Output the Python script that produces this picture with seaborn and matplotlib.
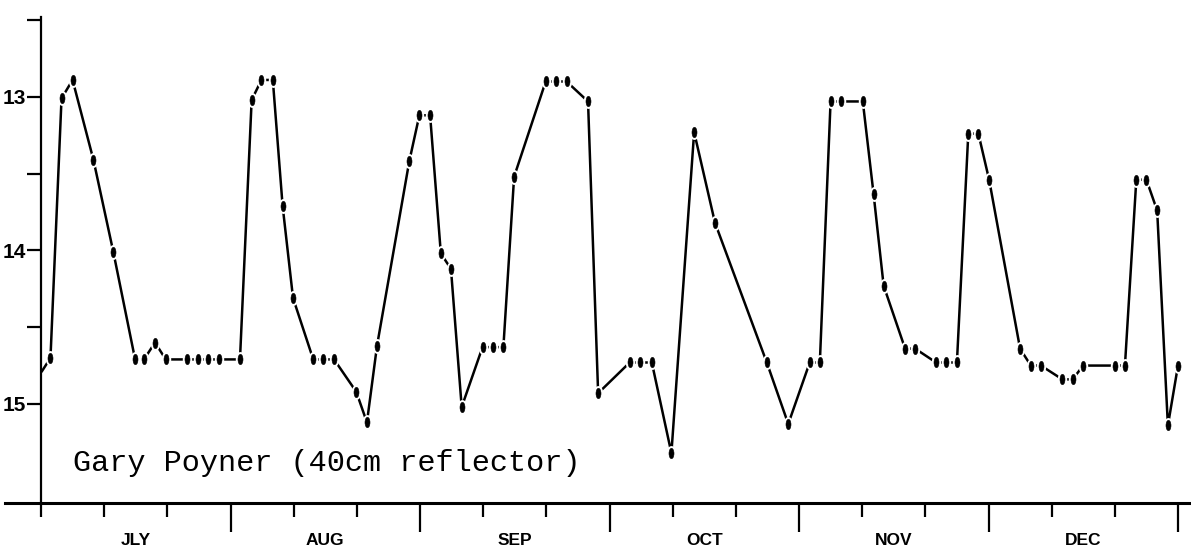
import numpy as np
import pandas as pd
import matplotlib
matplotlib.use("Agg")
import matplotlib.pyplot as plt
from matplotlib.path import Path
from matplotlib.transforms import Affine2D
import seaborn as sns

# ---- data (x in "chart days": each month spans 30 units) ----
days = [0.1, 1.5, 3.25, 5.0, 8.3, 11.45,
        14.9, 16.3, 18.05, 19.75, 23.15, 24.8, 26.5, 28.2, 31.5,
        33.35, 34.9, 36.7, 38.25, 39.9,
        43.1, 44.7, 46.4, 49.9, 51.6, 53.2,
        58.3, 59.9, 61.6, 63.3, 64.9,
        66.6, 69.9, 71.5, 73.2, 74.9,
        79.9, 81.5, 83.2, 86.6, 88.2,
        93.2, 94.9, 96.7, 99.8,
        103.4, 106.7, 114.9, 118.3,
        121.7, 123.3, 125.0, 126.6, 130.1,
        131.8, 133.4, 136.8, 138.4,
        141.7, 143.3, 145.0,
        146.8, 148.4, 150.1,
        155.0, 156.7, 158.3, 161.7, 163.3, 165.0,
        170.0, 171.6,
        173.4, 175.0, 176.7, 178.4, 180.0]
mags = [14.79, 14.70, 13.01, 12.89, 13.41, 14.01,
        14.71, 14.71, 14.60, 14.71, 14.71, 14.71, 14.71, 14.71, 14.71,
        13.02, 12.89, 12.89, 13.71, 14.31,
        14.71, 14.71, 14.71, 14.92, 15.12, 14.62,
        13.42, 13.12, 13.12, 14.02, 14.12,
        15.02, 14.63, 14.63, 14.63, 13.52,
        12.90, 12.90, 12.90, 13.03, 14.93,
        14.73, 14.73, 14.73, 15.32,
        13.23, 13.82, 14.73, 15.13,
        14.73, 14.73, 13.03, 13.03, 13.03,
        13.63, 14.23, 14.64, 14.64,
        14.73, 14.73, 14.73,
        13.24, 13.24, 13.54,
        14.64, 14.75, 14.75, 14.84, 14.84, 14.75,
        14.75, 14.75,
        13.54, 13.54, 13.74, 15.14, 14.75]

months = ["JLY", "AUG", "SEP", "OCT", "NOV", "DEC"]
month_edges = [30, 60, 90, 120, 150, 180]
decade_ticks = [0, 10, 20, 40, 50, 70, 80, 100, 110, 130, 140, 160, 170]
ytick_vals = [12.5, 13, 13.5, 14, 14.5, 15]
ytick_labels = ["", "13", "", "14", "", "15"]
caption = "Gary Poyner (40cm reflector)"

df = pd.DataFrame({"day": days, "mag": mags})

sns.set_theme(style="white")
plt.rcParams["font.family"] = ["DejaVu Sans"]
plt.rcParams["text.color"] = "black"

fig = plt.figure(figsize=(11.91, 5.54), dpi=100)
ax = fig.add_axes([5 / 1191, 1 - 503 / 554, 1186 / 1191, 486 / 554])

# line
sns.lineplot(data=df, x="day", y="mag", ax=ax, sort=False, estimator=None,
             color="black", lw=1.8, zorder=2)

# elongated dot marker
ell = Path.unit_circle().transformed(Affine2D().scale(0.48, 1.0))
obs = df.iloc[1:]
ax.plot(obs["day"], obs["mag"], ls="none", marker=ell, ms=7.5,
        mfc="black", mec="white", mew=3.2, zorder=3)
ax.plot(obs["day"], obs["mag"], ls="none", marker=ell, ms=7.5,
        mfc="black", mec="black", mew=0.4, zorder=4)

# axes limits
x_per_px = 180 / 1137
ax.set_xlim(-36 * x_per_px, 180 + 13 * x_per_px)
ax.set_ylim(15.645, 12.48)

for s in ["top", "right"]:
    ax.spines[s].set_visible(False)
ax.spines["left"].set_position(("data", 0))
ax.spines["left"].set_linewidth(1.6)
ax.spines["bottom"].set_linewidth(2.2)
ax.spines["left"].set_color("black")
ax.spines["bottom"].set_color("black")

ax.set_xticks(month_edges)
ax.set_xticks(decade_ticks, minor=True)
ax.set_xticklabels([])
ax.tick_params(axis="x", which="major", direction="out", length=21, width=1.6,
               color="black", bottom=True)
ax.tick_params(axis="x", which="minor", direction="out", length=10, width=1.6,
               color="black", bottom=True)

ax.set_yticks(ytick_vals)
ax.set_yticklabels(ytick_labels)
ax.tick_params(axis="y", which="major", direction="out", length=10, width=1.6,
               color="black", labelcolor="black", left=True, pad=1,
               labelsize=15)
for lab in ax.get_yticklabels():
    lab.set_fontfamily(["Liberation Sans", "DejaVu Sans"])
    lab.set_fontweight("bold")

ax.set_xlabel("")
ax.set_ylabel("")
ax.grid(False)

# month names centred in each month
trans = ax.get_xaxis_transform()
for i, m in enumerate(months):
    ax.text(month_edges[i] - 15, -0.077, m, transform=trans, ha="center",
            va="center", fontsize=12.5, fontweight="bold", color="black",
            family=["Liberation Sans", "DejaVu Sans"])

ax.text(5.0, 15.385, caption, ha="left", va="center", fontsize=21.8,
        family=["Liberation Mono", "DejaVu Sans Mono"], color="black")

fig.savefig("out.png", dpi=100, facecolor="white")
